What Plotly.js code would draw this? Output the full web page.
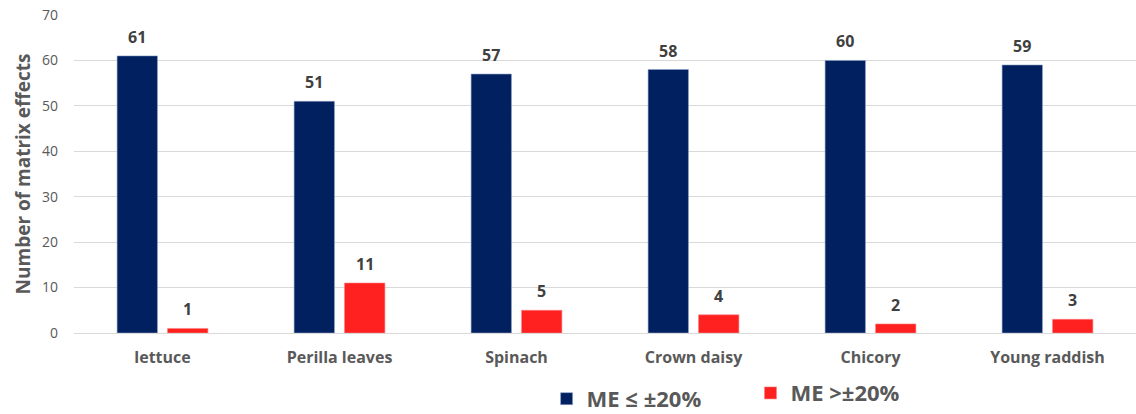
<!DOCTYPE html>
<html>
<head>
<meta charset="utf-8">
<script src="https://cdn.plot.ly/plotly-3.0.1.min.js"></script>
<style>
  html, body { margin: 0; padding: 0; background: #ffffff; }
  #chart { width: 1136px; height: 414px; }
</style>
</head>
<body>
<div id="chart"></div>
<script>
// Vegetable matrices
const categories = ["lettuce", "Perilla leaves", "Spinach", "Crown daisy", "Chicory", "Young raddish"];
// Count of compounds with matrix effect within ±20%
const withinLimit = [61, 51, 57, 58, 60, 59];
// Count of compounds with matrix effect beyond ±20%
const beyondLimit = [1, 11, 5, 4, 2, 3];
const seriesNames = ["ME \u2264 \u00b120%", "ME >\u00b120%"];
const yTicks = [0, 10, 20, 30, 40, 50, 60, 70];

const FONT = "Open Sans, sans-serif";
const BAR_GAP = 0.43;
const GROUP_GAP = 0.2;

const traces = [
  {
    type: "bar",
    name: seriesNames[0],
    x: categories,
    y: withinLimit,
    marker: { color: "#002060", line: { color: "#8fa3c8", width: 0.6 } },
    legend: "legend",
    hoverinfo: "x+y"
  },
  {
    type: "bar",
    name: seriesNames[1],
    x: categories,
    y: beyondLimit,
    marker: { color: "#ff2020", line: { color: "#ff8080", width: 0.6 } },
    legend: "legend2",
    hoverinfo: "x+y"
  }
];

// Value labels above each bar, offset to the bar's slot within its group
const plotWidth = 1136 - 74;
const catWidth = plotWidth / categories.length;
const slotOffset = catWidth * (1 - BAR_GAP) / 4;
const valueFont = { family: FONT, size: 16, color: "#404040", weight: 700 };
const annotations = [];
[withinLimit, beyondLimit].forEach((series, si) => {
  series.forEach((v, i) => {
    annotations.push({
      x: categories[i],
      y: v,
      xref: "x",
      yref: "y",
      text: String(v),
      showarrow: false,
      yanchor: "bottom",
      xshift: si === 0 ? -slotOffset : slotOffset,
      yshift: 6,
      font: valueFont
    });
  });
});

const legendFont = { family: FONT, size: 22, color: "#595959", weight: 700 };

const layout = {
  width: 1136,
  height: 414,
  margin: { l: 74, r: 0, t: 15, b: 81, autoexpand: false },
  paper_bgcolor: "#ffffff",
  plot_bgcolor: "#ffffff",
  barmode: "group",
  bargap: BAR_GAP,
  bargroupgap: GROUP_GAP,
  font: { family: FONT, color: "#595959" },
  xaxis: {
    type: "category",
    showgrid: false,
    showline: false,
    zeroline: false,
    ticks: "",
    ticklabelstandoff: 13,
    tickfont: { family: FONT, size: 16, color: "#595959", weight: 700 }
  },
  yaxis: {
    range: [0, 70],
    tickvals: yTicks,
    ticktext: yTicks.map(String),
    showgrid: true,
    gridcolor: "#d9d9d9",
    gridwidth: 1,
    zeroline: true,
    zerolinecolor: "#d9d9d9",
    zerolinewidth: 1,
    showline: false,
    ticks: "",
    ticklabelstandoff: 15,
    tickfont: { family: FONT, size: 14, color: "#595959" },
    title: {
      text: "Number of matrix effects",
      font: { family: FONT, size: 19, color: "#595959", weight: 700 },
      standoff: 6
    }
  },
  annotations: annotations,
  showlegend: true,
  legend: {
    orientation: "h",
    x: 0.445,
    xanchor: "left",
    y: -0.207,
    yanchor: "middle",
    font: legendFont,
    bgcolor: "rgba(0,0,0,0)"
  },
  legend2: {
    orientation: "h",
    x: 0.637,
    xanchor: "left",
    y: -0.189,
    yanchor: "middle",
    font: legendFont,
    bgcolor: "rgba(0,0,0,0)"
  }
};

Plotly.newPlot("chart", traces, layout, { displayModeBar: false, staticPlot: true });
</script>
</body>
</html>
